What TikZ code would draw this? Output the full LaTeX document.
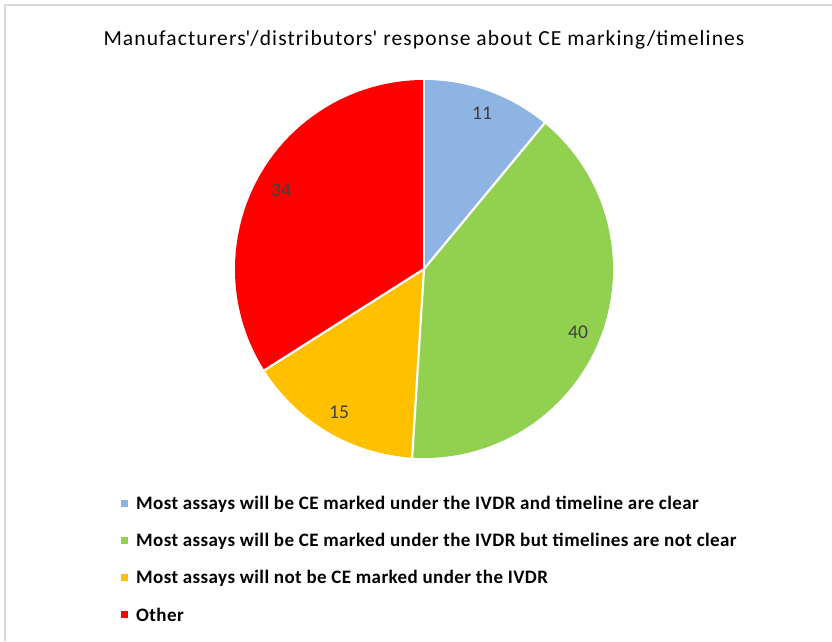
\documentclass[tikz,border=0pt]{standalone}
\usepackage{fontspec}
\setmainfont{Carlito}
\newfontfamily\titlefont[LetterSpace=5.2]{Carlito}
\newfontfamily\legfont[LetterSpace=2.2]{Carlito}
\definecolor{cblue}{HTML}{8EB4E3}
\definecolor{cgreen}{HTML}{92D050}
\definecolor{cyellow}{HTML}{FFC000}
\definecolor{cred}{HTML}{FF0000}
\definecolor{lbl}{HTML}{404040}
\definecolor{frame}{HTML}{D9D9D9}
\tikzset{
  slice/.style={draw=white, line width=2.2pt, line join=round},
  vlabel/.style={text=lbl, font=\fontsize{19.5}{19.5}\selectfont, inner sep=0pt},
  legsq/.style={minimum size=7pt, inner sep=0pt, outer sep=0pt},
  legtxt/.style={anchor=west, font=\legfont\fontsize{19}{19}\selectfont\bfseries, inner sep=0pt, text=black},
}
\begin{document}
\begin{tikzpicture}[x=1pt,y=1pt]
\useasboundingbox (0,0) rectangle (832,-641);
\fill[white] (0,0) rectangle (832,-641);
\draw[frame, line width=2pt] (5,-641) -- (5,-5) -- (832,-5);
\node[font=\titlefont\fontsize{21.5}{21.5}\selectfont, inner sep=0pt] (title) at (424,-40) {Manufacturers\textquotesingle/distributors\textquotesingle{} response about CE marking/timelines};
\coordinate (C) at (424,-269);
\def\R{189}
\fill[cblue] (C) -- ++(90:\R) arc[start angle=90, end angle=50.4, radius=\R] -- cycle;
\fill[cgreen] (C) -- ++(50.4:\R) arc[start angle=50.4, end angle=-93.6, radius=\R] -- cycle;
\fill[cyellow] (C) -- ++(-93.6:\R) arc[start angle=-93.6, end angle=-147.6, radius=\R] -- cycle;
\fill[cred] (C) -- ++(-147.6:\R) arc[start angle=-147.6, end angle=-270, radius=\R] -- cycle;
\draw[slice] (C) -- ++(90:\R);
\draw[slice] (C) -- ++(50.4:\R);
\draw[slice] (C) -- ++(-93.6:\R);
\draw[slice] (C) -- ++(-147.6:\R);
\node[vlabel] (v11) at (482,-113) {11};
\node[vlabel] (v40) at (578,-332) {40};
\node[vlabel] (v15) at (339,-412) {15};
\node[vlabel] (v34) at (281,-190) {34};
\node[legsq, fill=cblue] (s1) at (124.5,-503) {};
\node[legsq, fill=cgreen] (s2) at (124.5,-540) {};
\node[legsq, fill=cyellow] (s3) at (124.5,-577) {};
\node[legsq, fill=cred] (s4) at (124.5,-614) {};
\node[legtxt] (t1) at (136,-504) {Most assays will be CE marked under the IVDR and timeline are clear};
\node[legtxt] (t2) at (136,-541) {Most assays will be CE marked under the IVDR but timelines are not clear};
\node[legtxt] (t3) at (136,-578) {Most assays will not be CE marked under the IVDR};
\node[legtxt] (t4) at (136,-615) {Other};
\end{tikzpicture}
\end{document}
